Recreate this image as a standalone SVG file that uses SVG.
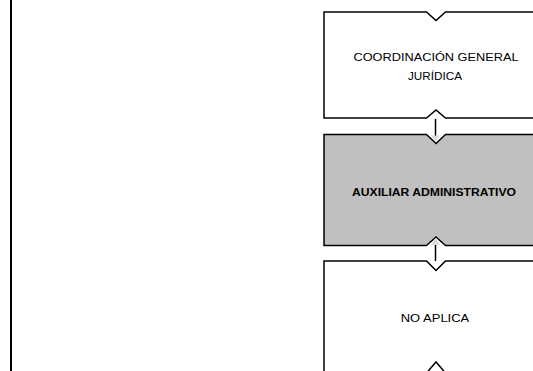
<svg xmlns="http://www.w3.org/2000/svg" width="533" height="371" viewBox="0 0 533 371">
<style>
.box{stroke:#000;stroke-width:1.5;stroke-linejoin:miter}
.t{font-family:"Liberation Sans",Arial,sans-serif;font-size:11.5px;fill:#000;text-anchor:middle}
.b{font-weight:bold}
.c{stroke:#000;stroke-width:1.5;fill:none}
.ah{fill:#dadada;stroke:none}
</style>
<rect width="533" height="371" fill="#fff"/>
<line x1="11" y1="0" x2="11" y2="371" stroke="#000" stroke-width="2"/>
<g id="n1">
<path class="box" fill="#fff" d="M324,12 H426.5 L436,20.5 L445.5,12 H560 V118 H445.5 L436,110 L426.5,118 H324 Z"/>
<text class="t" x="436" y="61" textLength="165" lengthAdjust="spacingAndGlyphs">COORDINACIÓN GENERAL</text>
<text class="t" x="435" y="79.5" textLength="54" lengthAdjust="spacingAndGlyphs">JURÍDICA</text>
</g>
<g id="n2">
<path class="box" fill="#c0c0c0" d="M324,134.5 H426.5 L436,143.5 L445.5,134.5 H560 V245.5 H445.5 L436,237 L426.5,245.5 H324 Z"/>
<text class="t b" x="434" y="195.5" textLength="164" lengthAdjust="spacingAndGlyphs">AUXILIAR ADMINISTRATIVO</text>
</g>
<g id="n3">
<path class="box" fill="#fff" d="M324,261 H426.5 L436,270.5 L445.5,261 H560 V373 H445.5 L436,362 L426.5,373 H324 Z"/>
<text class="t" x="435" y="321.5" textLength="68.5" lengthAdjust="spacingAndGlyphs">NO APLICA</text>
</g>
<g id="connectors">
<line class="c" x1="435.5" y1="119" x2="435.5" y2="136"/>
<path class="ah" d="M431,135.5 L440,135.5 L435.5,142.5 Z"/>
<line class="c" x1="435.5" y1="261" x2="435.5" y2="244"/>
<path class="ah" d="M431,245 L440,245 L435.5,238 Z"/>
</g>
</svg>
